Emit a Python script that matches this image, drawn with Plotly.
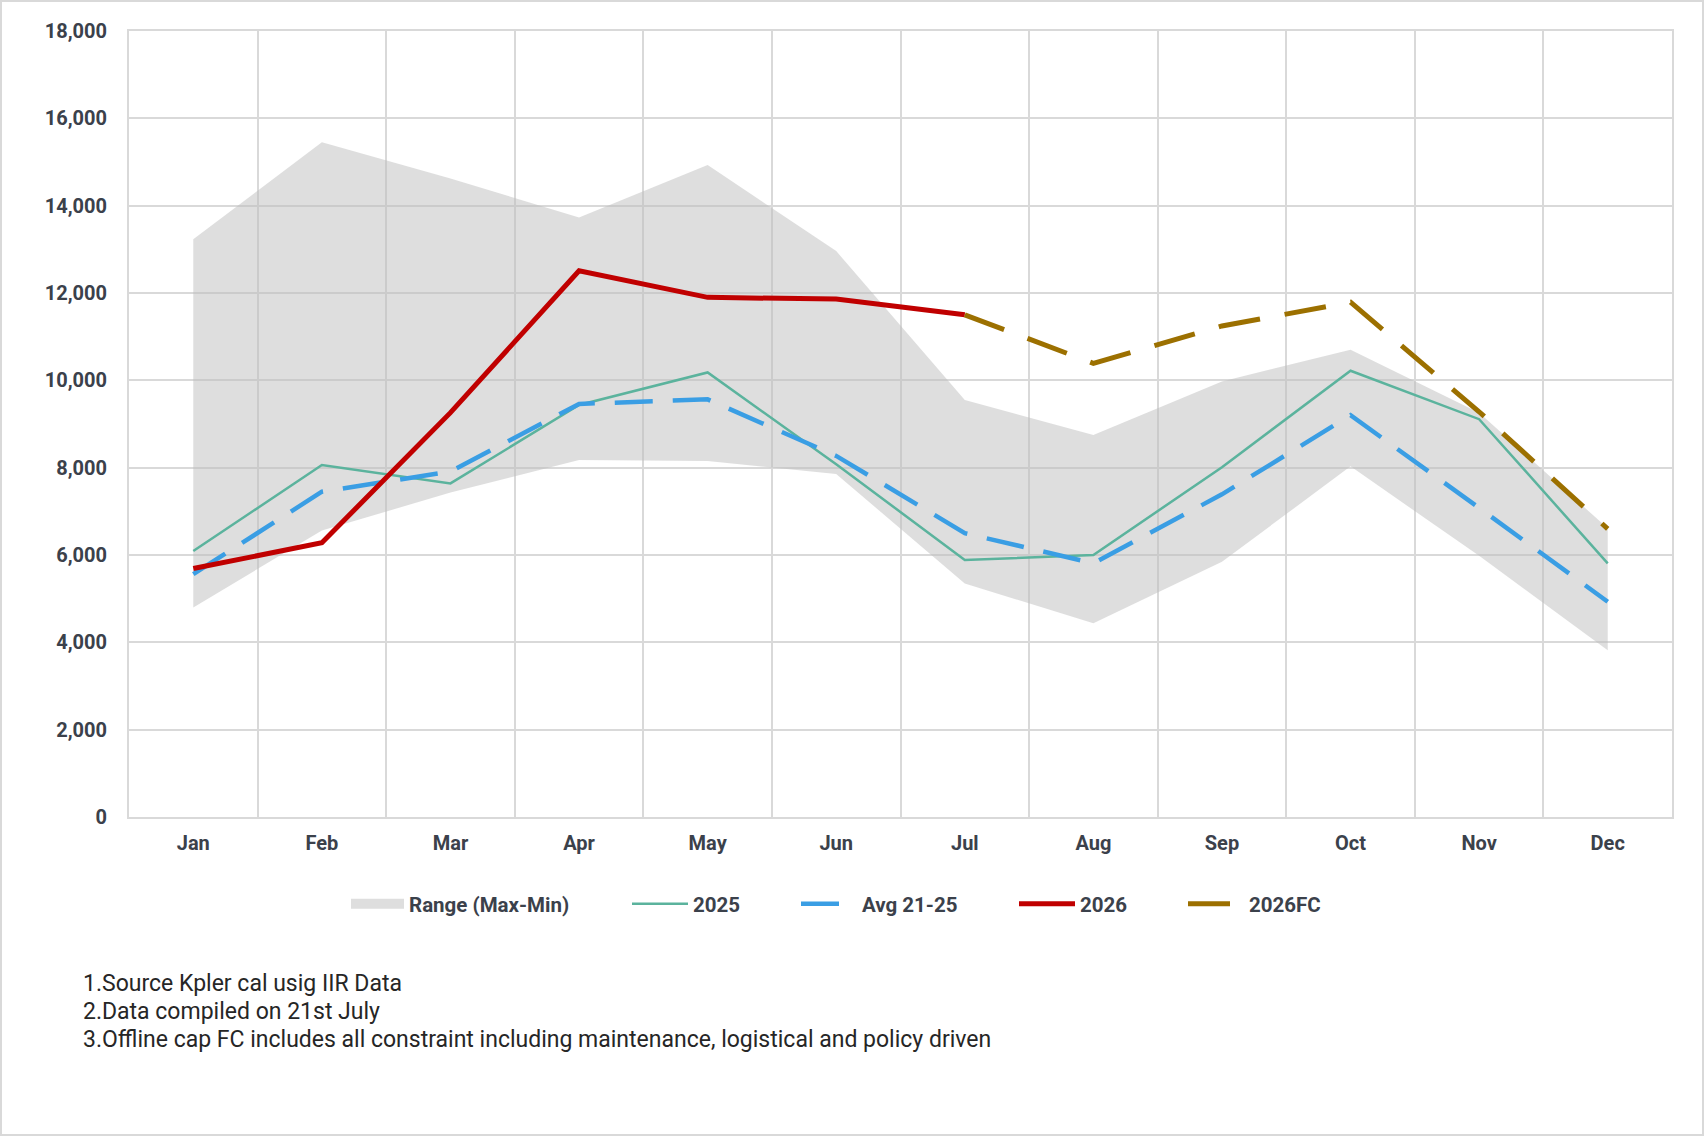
import plotly.graph_objects as go

months = ["Jan", "Feb", "Mar", "Apr", "May", "Jun", "Jul", "Aug", "Sep", "Oct", "Nov", "Dec"]
range_max = [13230, 15450, 14620, 13730, 14930, 12960, 9550, 8750, 9975, 10700, 9260, 6610]
range_min = [4800, 6560, 7430, 8175, 8150, 7855, 5350, 4435, 5845, 8030, 5980, 3820]
y2025 = [6090, 8060, 7640, 9435, 10180, 8080, 5885, 6000, 8010, 10220, 9110, 5810]
avg_21_25 = [5560, 7450, 7910, 9460, 9565, 8270, 6500, 5810, 7390, 9200, 7080, 4930]
y2026 = [5690, 6280, 9260, 12510, 11900, 11860, 11500, None, None, None, None, None]
fc2026 = [None, None, None, None, None, None, 11500, 10390, 11245, 11790, 9280, 6600]
footnotes = [
    "1.Source Kpler cal usig IIR Data",
    "2.Data compiled on 21st July",
    "3.Offline cap FC includes all constraint including maintenance, logistical and policy driven",
]

W, H = 1704, 1136
ML, MR, MT, MB = 129, 32, 31, 319
PW, PH = W - ML - MR, H - MT - MB
PB = H - MB  # plot bottom pixel


def px(x):
    return (x - ML) / PW


def py(y):
    return (PB - y) / PH


TXT = "#3b414b"
GRID = "#d9d9d9"

fig = go.Figure()
fig.add_trace(go.Scatter(x=months, y=range_min, mode="lines", line=dict(width=0),
                         showlegend=False, hoverinfo="skip"))
fig.add_trace(go.Scatter(x=months, y=range_max, mode="lines", line=dict(width=0),
                         fill="tonexty", fillcolor="rgba(190,190,190,0.5)",
                         name="Range (Max-Min)", legend="legend", showlegend=False))
fig.add_trace(go.Scatter(x=[None], y=[None], mode="lines",
                         line=dict(width=12, color="#dedede"),
                         name="Range (Max-Min)", legend="legend"))
fig.add_trace(go.Scatter(x=months, y=y2025, mode="lines", name="2025",
                         line=dict(color="#5bb39d", width=2.5), legend="legend2"))
fig.add_trace(go.Scatter(x=months, y=avg_21_25, mode="lines", name="Avg 21-25",
                         line=dict(color="#3a9ee4", width=4.5, dash="38px,20px"),
                         legend="legend3"))
fig.add_trace(go.Scatter(x=months, y=y2026, mode="lines", name="2026",
                         line=dict(color="#c00000", width=5), legend="legend4"))
fig.add_trace(go.Scatter(x=months, y=fc2026, mode="lines", name="2026FC",
                         line=dict(color="#9c7000", width=5, dash="42px,25px"),
                         legend="legend5"))

leg_font = dict(family="Roboto", size=20.5, color=TXT, weight="bold")
leg_y = py(904)
swatch_starts = [351, 632, 801, 1019, 1188]
leg_names = ["legend", "legend2", "legend3", "legend4", "legend5"]
layout_legends = {}
for name, s in zip(leg_names, swatch_starts):
    layout_legends[name] = dict(
        x=px(s - 5), y=leg_y, xanchor="left", yanchor="middle",
        orientation="h", itemwidth=53 if name == "legend" else 56,
        font=leg_font, bgcolor="rgba(0,0,0,0)", borderwidth=0,
    )

annotations = []
for i, t in enumerate(footnotes):
    annotations.append(dict(
        text=t, xref="paper", yref="paper", x=px(81), y=py(983 + i * 28),
        xanchor="left", yanchor="middle", showarrow=False,
        font=dict(family="Roboto", size=23, color="#262626"),
    ))

fig.update_layout(
    width=W, height=H,
    margin=dict(l=ML, r=MR, t=MT, b=MB),
    paper_bgcolor="white", plot_bgcolor="white",
    annotations=annotations,
    shapes=[dict(type="rect", xref="paper", yref="paper",
                 x0=px(1), x1=px(W - 1), y0=py(H - 1), y1=py(1),
                 line=dict(color=GRID, width=2), fillcolor="rgba(0,0,0,0)", layer="above")],
    xaxis=dict(
        type="category", range=[-0.5, 11.5], tickson="boundaries", showgrid=True,
        gridcolor=GRID, gridwidth=2,
        showline=True, mirror=True, linecolor=GRID, linewidth=2, ticks="",
        tickfont=dict(family="Roboto", size=20, color=TXT, weight="bold"),
        ticklabelstandoff=7, fixedrange=True,
    ),
    yaxis=dict(
        range=[0, 18000], dtick=2000, tickformat=",", showgrid=True, gridcolor=GRID, gridwidth=2,
        showline=True, mirror=True, linecolor=GRID, linewidth=2, ticks="", zeroline=False,
        tickfont=dict(family="Roboto", size=20, color=TXT, weight="bold"),
        ticklabelstandoff=16, fixedrange=True,
    ),
    **layout_legends,
)

fig.write_html("out.html")
